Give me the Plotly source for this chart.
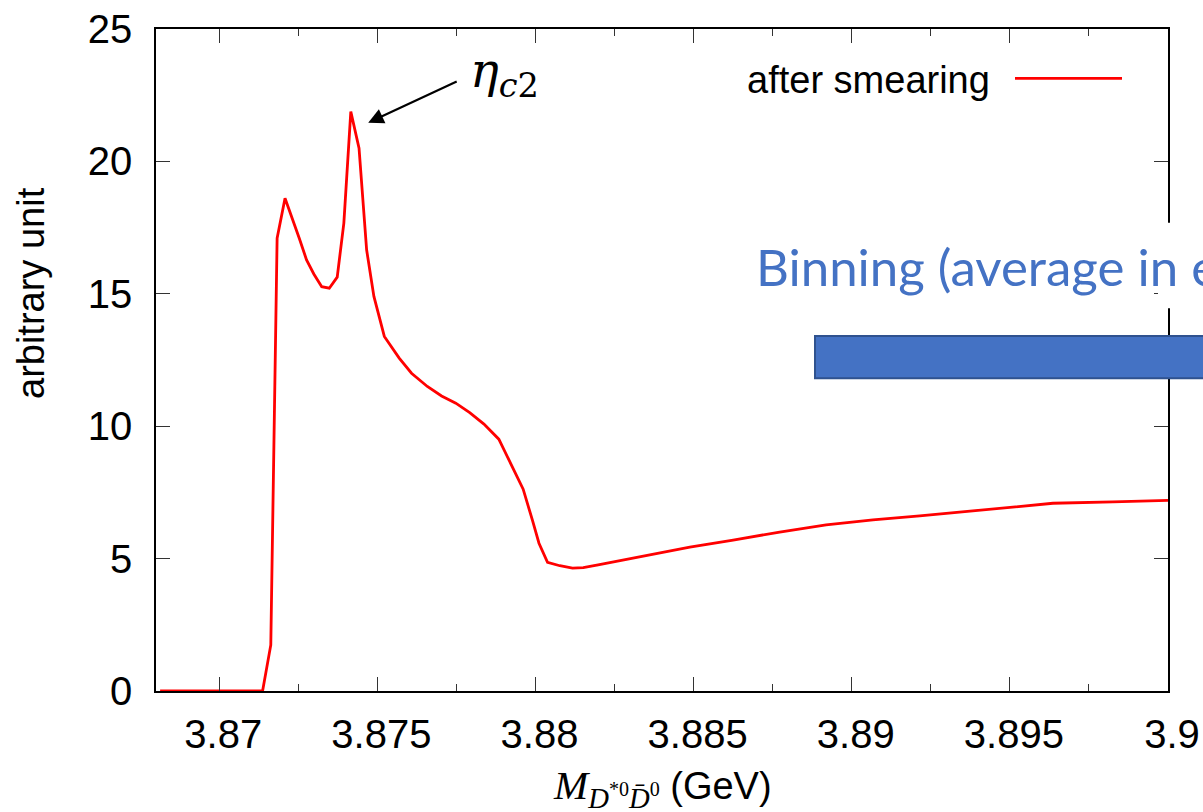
import plotly.graph_objects as go

# ---- data ----
mass = [3.86813, 3.87137, 3.87163, 3.87183, 3.87208, 3.87229, 3.87253, 3.87276, 3.87299,
        3.87324, 3.87348, 3.87373, 3.87394, 3.87416, 3.87442, 3.87466, 3.87489, 3.87522,
        3.87569, 3.87608, 3.87658, 3.87703, 3.87748, 3.87792, 3.87837, 3.87884, 3.87922,
        3.87961, 3.8799, 3.88011, 3.88038, 3.88077, 3.88117, 3.88151, 3.88198, 3.88267,
        3.88372, 3.88488, 3.88625, 3.88772, 3.88919, 3.89067, 3.89215, 3.89352, 3.89531,
        3.89636, 3.89826, 3.9]
after_smearing = [0, 0, 1.74, 17.1, 18.61, 17.92, 17.1, 16.28, 15.75, 15.27, 15.21, 15.63,
                  17.67, 21.88, 20.5, 16.66, 14.9, 13.39, 12.57, 12.0, 11.5, 11.14, 10.87,
                  10.51, 10.08, 9.51, 8.56, 7.62, 6.46, 5.58, 4.86, 4.73, 4.64, 4.66, 4.76,
                  4.92, 5.18, 5.43, 5.70, 6.0, 6.27, 6.46, 6.61, 6.77, 6.99, 7.09, 7.14, 7.20]
x_tickvals = [3.87, 3.875, 3.88, 3.885, 3.89, 3.895, 3.9]
x_ticktext = ["3.87", "3.875", "3.88", "3.885", "3.89", "3.895", "3.9"]
y_tickvals = [0, 5, 10, 15, 20, 25]
y_ticktext = ["0", "5", "10", "15", "20", "25"]
peak_label = "<i>η</i><sub><i>c</i>2</sub>"
peak_x, peak_y = 3.87471, 21.46

W, H = 1203, 812
L, R, T, B = 156, 1168, 29, 691


def px(x):
    return (x - L) / (R - L)


def py(y):
    return (B - y) / (B - T)


SANS = "Liberation Sans"
fig = go.Figure()
fig.add_trace(go.Scatter(x=mass, y=after_smearing, mode="lines",
                         line=dict(color="#ff0000", width=2.8),
                         name="after smearing", showlegend=False))

axis_common = dict(showline=True, linecolor="black", linewidth=1.5, mirror="allticks",
                   ticks="inside", ticklen=14, tickwidth=1.2, tickcolor="#333333",
                   showgrid=False, zeroline=False, automargin=False,
                   tickfont=dict(family=SANS, size=40, color="black"))
fig.update_xaxes(range=[3.868, 3.9], tickmode="array", tickvals=x_tickvals,
                 ticktext=x_ticktext, ticklabelstandoff=7, ticklabelshift=4,
                 minor=dict(ticks="inside", ticklen=7, dtick=0.0025, tick0=3.8675,
                            tickcolor="#333333", tickwidth=1.2, showgrid=False),
                 **axis_common)
fig.update_yaxes(range=[0, 25], tickmode="array", tickvals=y_tickvals,
                 ticktext=y_ticktext, ticklabelstandoff=14, **axis_common)

ann = []
# axis titles
ann.append(dict(xref="paper", yref="paper", x=px(31), y=py(293), xanchor="center",
                yanchor="middle", text="arbitrary unit",
                textangle=-90, showarrow=False, font=dict(family=SANS, size=38, color="black")))
ann.append(dict(xref="paper", yref="paper", x=px(662), y=py(788), xanchor="center",
                yanchor="middle", showarrow=False,
                text="<span style='font-family:Liberation Serif;font-size:41px'><i>M</i><sub><i>D</i>"
                     "<sup>*0</sup><i>D\u0304</i><sup>0</sup></sub></span> (GeV)",
                font=dict(family=SANS, size=38, color="black")))
# legend-style label
ann.append(dict(xref="paper", yref="paper", x=px(992), y=py(80), xanchor="right",
                yanchor="middle", showarrow=False, text="after smearing",
                font=dict(family=SANS, size=38, color="black")))
# peak label + arrow
ann.append(dict(xref="x", yref="y", x=peak_x, y=peak_y, ax=90, ay=-42, text="",
                showarrow=True, arrowhead=2, arrowsize=1.4, arrowwidth=2.2,
                arrowcolor="black"))
ann.append(dict(xref="paper", yref="paper", x=px(468), y=py(73), xanchor="left",
                yanchor="middle", showarrow=False, text=peak_label,
                font=dict(family="DejaVu Serif", size=48, color="black")))
# slide overlay text
ann.append(dict(xref="paper", yref="paper", x=px(754), y=py(266), xanchor="left",
                yanchor="middle", showarrow=False, text="Binning (average in each bin)",
                font=dict(family="Lato", size=51, color="#4472C4")))

shapes = [
    dict(type="line", xref="paper", yref="paper", x0=px(1015), x1=px(1122),
         y0=py(78.3), y1=py(78.3), line=dict(color="#ff0000", width=2.8)),
    dict(type="rect", xref="paper", yref="paper", x0=px(1158), x1=px(1178),
         y0=py(308.3), y1=py(222.7), fillcolor="white", line=dict(width=0), layer="above"),
    dict(type="rect", xref="paper", yref="paper", x0=px(815), x1=px(1215),
         y0=py(378.3), y1=py(336), fillcolor="#4472C4",
         line=dict(color="#2F528F", width=2), layer="above"),
]

fig.update_layout(width=W, height=H, margin=dict(l=L, r=W - R, t=T, b=H - B, autoexpand=False),
                  paper_bgcolor="white", plot_bgcolor="white",
                  annotations=ann, shapes=shapes)
fig.write_html("out.html", config={"displayModeBar": False},
               post_script="document.body.style.margin='0px';document.body.style.padding='0px';")
